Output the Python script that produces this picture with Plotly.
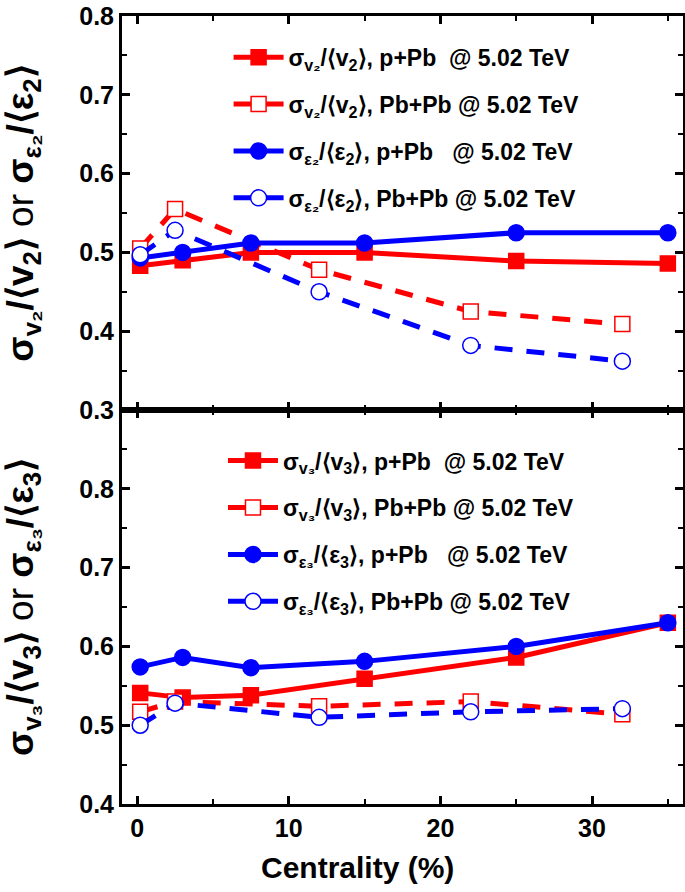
import plotly.graph_objects as go
from plotly.subplots import make_subplots

# ---- data ----
x_ppb = [0.2, 3, 7.5, 15, 25, 35]
x_pbpb = [0.2, 2.5, 12, 22, 32]

v2_ppb = [0.483, 0.490, 0.500, 0.500, 0.489, 0.486]
v2_pbpb = [0.505, 0.555, 0.478, 0.425, 0.409]
e2_ppb = [0.493, 0.500, 0.512, 0.512, 0.525, 0.525]
e2_pbpb = [0.497, 0.528, 0.450, 0.382, 0.362]

v3_ppb = [0.541, 0.535, 0.538, 0.559, 0.586, 0.630]
v3_pbpb = [0.517, 0.530, 0.524, 0.530, 0.514]
e3_ppb = [0.574, 0.586, 0.573, 0.581, 0.600, 0.630]
e3_pbpb = [0.500, 0.528, 0.510, 0.517, 0.521]

NB = "\u00a0"
labels_top = [
    f"σ<sub>v₂</sub>/⟨v<sub>2</sub>⟩, p+Pb{NB}{NB}@ 5.02 TeV",
    f"σ<sub>v₂</sub>/⟨v<sub>2</sub>⟩, Pb+Pb @ 5.02 TeV",
    f"σ<sub>ε₂</sub>/⟨ε<sub>2</sub>⟩, p+Pb{NB}{NB}{NB}@ 5.02 TeV",
    f"σ<sub>ε₂</sub>/⟨ε<sub>2</sub>⟩, Pb+Pb @ 5.02 TeV",
]
labels_bot = [
    f"σ<sub>v₃</sub>/⟨v<sub>3</sub>⟩, p+Pb{NB}{NB}@ 5.02 TeV",
    f"σ<sub>v₃</sub>/⟨v<sub>3</sub>⟩, Pb+Pb @ 5.02 TeV",
    f"σ<sub>ε₃</sub>/⟨ε<sub>3</sub>⟩, p+Pb{NB}{NB}{NB}@ 5.02 TeV",
    f"σ<sub>ε₃</sub>/⟨ε<sub>3</sub>⟩, Pb+Pb @ 5.02 TeV",
]
x_title = "Centrality (%)"

RED = "#ff0000"
BLUE = "#0000ff"
FONT = "Liberation Sans, Arial, sans-serif"

fig = make_subplots(rows=2, cols=1, shared_xaxes=True, vertical_spacing=0)

def add(x, y, name, color, dash, symbol, filled, row, legend, grp):
    fig.add_trace(go.Scatter(
        x=x, y=y, name=name, mode="lines+markers",
        line=dict(color=color, width=5, dash=dash),
        marker=dict(symbol=symbol, size=16 if symbol == "circle" else 15,
                    color=color if filled else "white",
                    line=dict(color=color, width=1.5)),
        legend=legend, legendgroup=grp,
    ), row=row, col=1)

DASH = "18px,14px"
add(x_ppb, v2_ppb, labels_top[0], RED, "solid", "square", True, 1, "legend", "a")
add(x_pbpb, v2_pbpb, labels_top[1], RED, DASH, "square", False, 1, "legend", "b")
add(x_ppb, e2_ppb, labels_top[2], BLUE, "solid", "circle", True, 1, "legend", "c")
add(x_pbpb, e2_pbpb, labels_top[3], BLUE, DASH, "circle", False, 1, "legend", "d")

add(x_ppb, v3_ppb, labels_bot[0], RED, "solid", "square", True, 2, "legend2", "e")
add(x_pbpb, v3_pbpb, labels_bot[1], RED, DASH, "square", False, 2, "legend2", "f")
add(x_ppb, e3_ppb, labels_bot[2], BLUE, "solid", "circle", True, 2, "legend2", "g")
add(x_pbpb, e3_pbpb, labels_bot[3], BLUE, DASH, "circle", False, 2, "legend2", "h")

axis_common = dict(
    showline=True, linecolor="black", linewidth=3, mirror="ticks",
    ticks="inside", ticklen=8, tickwidth=2.5, tickcolor="black",
    showgrid=False, zeroline=False, automargin=False, ticklabeloverflow="allow",
    tickfont=dict(family=FONT, size=25, color="black", weight="bold"),
)

fig.update_xaxes(**axis_common, range=[-1, 36], dtick=10,
                 minor=dict(ticks="inside", ticklen=5, tickwidth=2, dtick=5, tickcolor="black"))
fig.update_xaxes(showticklabels=False, row=1, col=1)

fig.update_yaxes(**axis_common, dtick=0.1, tickformat=".1f",
                 minor=dict(ticks="inside", ticklen=5, tickwidth=2, dtick=0.05, tickcolor="black"))
fig.update_yaxes(range=[0.3, 0.8], row=1, col=1,
                 title=dict(text="<b>σ<sub>v₂</sub>/⟨v<sub>2</sub>⟩</b> or <b>σ<sub>ε₂</sub>/⟨ε<sub>2</sub>⟩</b>",
                            font=dict(family=FONT, size=37, color="black"), standoff=36))
fig.update_yaxes(range=[0.4, 0.9], row=2, col=1, tickvals=[0.4, 0.5, 0.6, 0.7, 0.8],
                 title=dict(text="<b>σ<sub>v₃</sub>/⟨v<sub>3</sub>⟩</b> or <b>σ<sub>ε₃</sub>/⟨ε<sub>3</sub>⟩</b>",
                            font=dict(family=FONT, size=37, color="black"), standoff=36))

fig.add_annotation(text=f"<b>{x_title}</b>", xref="paper", yref="paper",
                   x=0.42, y=-0.081, xanchor="center", yanchor="middle", showarrow=False,
                   font=dict(family=FONT, size=30, color="black"))

legend_common = dict(
    bgcolor="rgba(0,0,0,0)", borderwidth=0, itemwidth=50,
    font=dict(family=FONT, size=23, color="black", weight="bold"),
    tracegroupgap=14, xanchor="left", yanchor="top", orientation="v",
)
fig.update_layout(
    width=685, height=892,
    margin=dict(l=122, r=2, t=16, b=88),
    plot_bgcolor="white", paper_bgcolor="white",
    legend=dict(**legend_common, x=0.19, y=0.975),
    legend2=dict(**legend_common, x=0.18, y=0.463),
    showlegend=True,
)

fig.write_html("out.html", config={"displayModeBar": False},
               post_script="document.body.style.margin='0';")
